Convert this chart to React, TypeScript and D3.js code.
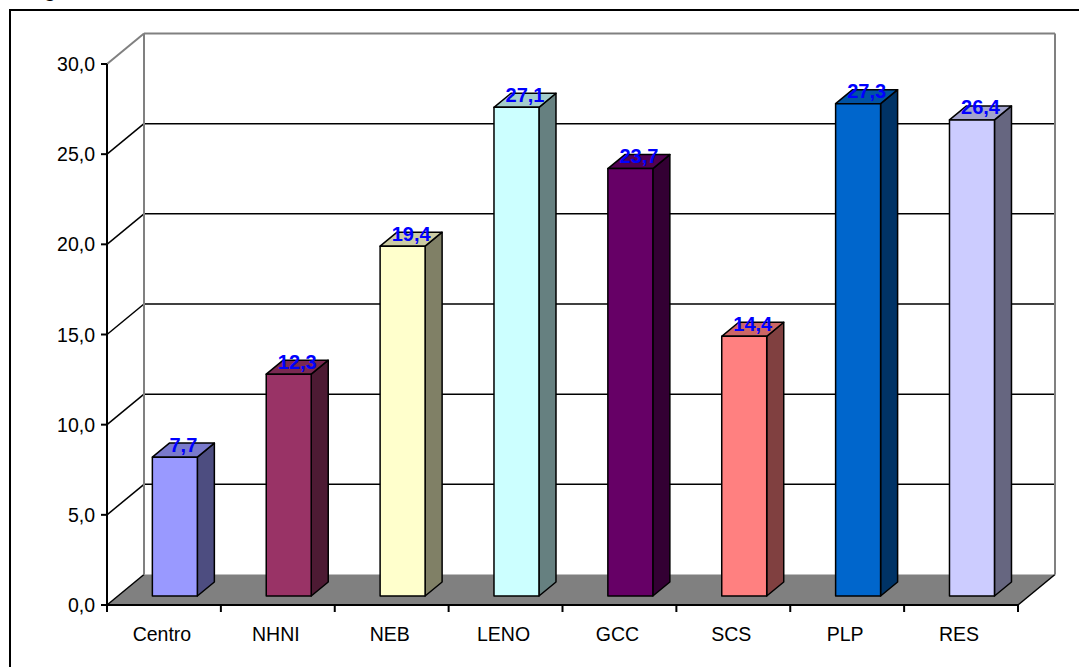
import React from "react";
import * as d3 from "d3";

const categories = ["Centro", "NHNI", "NEB", "LENO", "GCC", "SCS", "PLP", "RES"];
const values = [7.7, 12.3, 19.4, 27.1, 23.7, 14.4, 27.3, 26.4];
const colors = ["#9999FF", "#993366", "#FFFFCC", "#CCFFFF", "#660066", "#FF8080", "#0066CC", "#CCCCFF"];
const yTicks = [0, 5, 10, 15, 20, 25, 30];

const W = 1079;
const H = 667;
const X0 = 107;
const X1 = 1018;
const DX = 37;
const DY = -30.5;
const Z0 = 0.295;
const Z1 = 0.755;

function shade(c: string, k: number) {
  const col = d3.rgb(c);
  return d3.rgb(col.r * k, col.g * k, col.b * k).formatHex();
}

const fmt = (v: number) => v.toFixed(1).replace(".", ",");

export default function App() {
  const y = d3.scaleLinear().domain([0, 30]).range([605, 64]);
  const x = d3.scaleBand<string>().domain(categories).range([X0, X1]).padding(0);
  const bw = x.bandwidth() * 0.395;
  const font = "Arial, 'Liberation Sans', sans-serif";
  const pt = (px: number, py: number, z: number) => [px + DX * z, py + DY * z];
  const poly = (pts: number[][]) => pts.map((p) => p.join(",")).join(" ");

  const boundaries = categories.map((c) => x(c)!).concat([X1]);

  return (
    <svg width={W} height={H} style={{ position: "absolute", left: 0, top: 0, background: "#fff" }}>
      <text x={44} y={-3} fontFamily={font} fontSize={20} fontWeight="bold">g</text>
      <rect x={10} y={10} width={1120} height={720} fill="none" stroke="#000" strokeWidth={2} />
      {/* floor */}
      <polygon
        points={poly([pt(X0, y(0), 0), pt(X0, y(0), 1), pt(X1, y(0), 1), pt(X1, y(0), 0)])}
        fill="#808080"
      />
      <line x1={X1} y1={y(0)} x2={X1 + DX} y2={y(0) + DY} stroke="#000" strokeWidth={1.5} />
      {/* back wall grid */}
      {yTicks.filter((t) => t > 0 && t < 30).map((t) => (
        <line key={"g" + t} x1={X0 + DX} x2={X1 + DX} y1={y(t) + DY} y2={y(t) + DY} stroke="#000" strokeWidth={1.5} />
      ))}
      {/* left wall diagonals */}
      {yTicks.map((t) => (
        <line key={"d" + t} x1={X0} y1={y(t)} x2={X0 + DX} y2={y(t) + DY}
          stroke={t === 30 ? "#808080" : "#000"} strokeWidth={t === 30 ? 2 : 1.5} />
      ))}
      {/* wall edges */}
      <line x1={X0 + DX} y1={y(30) + DY} x2={X1 + DX} y2={y(30) + DY} stroke="#808080" strokeWidth={2} />
      <line x1={X0 + DX} y1={y(30) + DY} x2={X0 + DX} y2={y(0) + DY} stroke="#808080" strokeWidth={2} />
      <line x1={X1 + DX} y1={y(30) + DY} x2={X1 + DX} y2={y(0) + DY} stroke="#808080" strokeWidth={2} />
      {/* axes */}
      <line x1={X0} y1={y(30)} x2={X0} y2={y(0)} stroke="#000" strokeWidth={2} />
      <line x1={X0} y1={y(0)} x2={X1} y2={y(0)} stroke="#000" strokeWidth={2} />
      {yTicks.map((t) => (
        <g key={"t" + t}>
          <line x1={X0 - 6} x2={X0} y1={y(t)} y2={y(t)} stroke="#000" strokeWidth={2} />
          <text x={95} y={y(t)} dy="0.36em" textAnchor="end" fontFamily={font} fontSize={19.5}>{fmt(t)}</text>
        </g>
      ))}
      {boundaries.map((b, i) => (
        <line key={"xt" + i} x1={b} x2={b} y1={y(0)} y2={y(0) + 7} stroke="#000" strokeWidth={2} />
      ))}
      {categories.map((c) => (
        <text key={"xl" + c} x={x(c)! + x.bandwidth() / 2 - 2} y={641} textAnchor="middle" fontFamily={font} fontSize={19.5}>{c}</text>
      ))}
      {/* bars */}
      {categories.map((c, i) => {
        const cx = x(c)! + x.bandwidth() / 2;
        const l = cx - bw / 2;
        const r = cx + bw / 2;
        const yb = y(0);
        const yt = y(values[i]);
        const front = [pt(l, yb, Z0), pt(r, yb, Z0), pt(r, yt, Z0), pt(l, yt, Z0)];
        const side = [pt(r, yb, Z0), pt(r, yb, Z1), pt(r, yt, Z1), pt(r, yt, Z0)];
        const top = [pt(l, yt, Z0), pt(r, yt, Z0), pt(r, yt, Z1), pt(l, yt, Z1)];
        const tc = pt(cx, yt, (Z0 + Z1) / 2);
        return (
          <g key={"b" + c}>
            <polygon points={poly(side)} fill={shade(colors[i], 0.5)} stroke="#000" strokeWidth={1.5} strokeLinejoin="round" />
            <polygon points={poly(top)} fill={shade(colors[i], 0.8)} stroke="#000" strokeWidth={1.5} strokeLinejoin="round" />
            <polygon points={poly(front)} fill={colors[i]} stroke="#000" strokeWidth={1.5} strokeLinejoin="round" />
            <text x={tc[0]} y={tc[1] + 1.5} textAnchor="middle" fontFamily={font} fontWeight="bold" fontSize={20} fill="#0000FF">{fmt(values[i])}</text>
          </g>
        );
      })}
    </svg>
  );
}
